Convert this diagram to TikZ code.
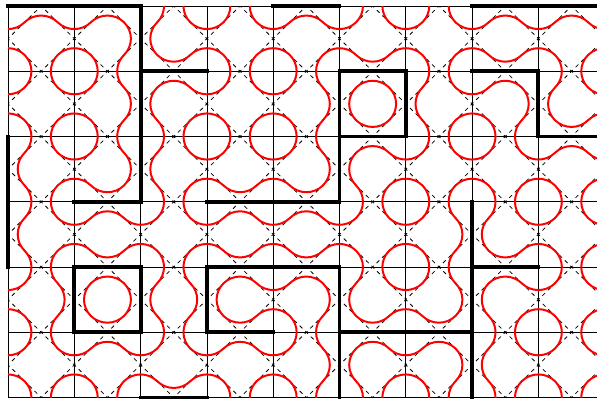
\documentclass[tikz,border=0pt]{standalone}
\usetikzlibrary{arrows.meta}
\newcommand{\hwalls}{0/0,0/1,0/4,0/7,0/8,1/2,1/5,1/7,2/5,2/8,3/1,3/3,3/4,4/1,4/3,4/4,4/7,5/1,5/3,5/5,5/6,6/2}
\newcommand{\vwalls}{0/2,0/3,1/4,2/0,2/1,2/2,2/4,3/4,5/1,5/2,5/4,5/5,6/1,7/3,7/4,7/5,8/1}
\newcommand{\arcrad}{0.35355}
\begin{document}
\begin{tikzpicture}[xscale=1.7542,yscale=1.7264,
    gridline/.style={draw=black,line width=0.6pt},
    diagline/.style={draw=black,line width=0.6pt,dash pattern=on 2.92pt off 2.92pt,dash phase=1.46pt},
    mirror/.style={draw=black,line width=3pt,line cap=rect},
    curve/.style={draw=red,line width=1.5pt,line cap=round}]
\useasboundingbox (-0.1207,0.092) rectangle (8.884,-6.023);
\foreach \j/\i in \hwalls {\expandafter\gdef\csname hw\j-\i\endcsname{}}
\foreach \i/\j in \vwalls {\expandafter\gdef\csname vw\i-\j\endcsname{}}
\draw[gridline] (0,0) grid (9,-6);
\begin{scope}
    \clip (0,0) rectangle (9,-6);
    \foreach \c in {0.5,1.5,...,14.5} \draw[diagline] (\c,0) -- (\c-6,-6);
    \foreach \c in {-5.5,-4.5,...,8.5} \draw[diagline] (\c,0) -- (\c+6,-6);
    \foreach \j in {0,...,6} \foreach \i in {0,...,8} {
        \ifcsname hw\j-\i\endcsname
            \draw[curve] (\i+0.5,-\j+0.5) ++(225:\arcrad) arc[start angle=225,end angle=315,radius=\arcrad];
            \draw[curve] (\i+0.5,-\j-0.5) ++(45:\arcrad) arc[start angle=45,end angle=135,radius=\arcrad];
        \else
            \draw[curve] (\i,-\j) ++(-45:\arcrad) arc[start angle=-45,end angle=45,radius=\arcrad];
            \draw[curve] (\i+1,-\j) ++(135:\arcrad) arc[start angle=135,end angle=225,radius=\arcrad];
        \fi
    }
    \foreach \i in {0,...,9} \foreach \j in {0,...,5} {
        \ifcsname vw\i-\j\endcsname
            \draw[curve] (\i-0.5,-\j-0.5) ++(-45:\arcrad) arc[start angle=-45,end angle=45,radius=\arcrad];
            \draw[curve] (\i+0.5,-\j-0.5) ++(135:\arcrad) arc[start angle=135,end angle=225,radius=\arcrad];
        \else
            \draw[curve] (\i,-\j) ++(225:\arcrad) arc[start angle=225,end angle=315,radius=\arcrad];
            \draw[curve] (\i,-\j-1) ++(45:\arcrad) arc[start angle=45,end angle=135,radius=\arcrad];
        \fi
    }
\end{scope}
\foreach \j/\i in \hwalls \draw[mirror] (\i,-\j) -- (\i+1,-\j);
\foreach \i/\j in \vwalls \draw[mirror] (\i,-\j) -- (\i,-\j-1);
\end{tikzpicture}
\end{document}
